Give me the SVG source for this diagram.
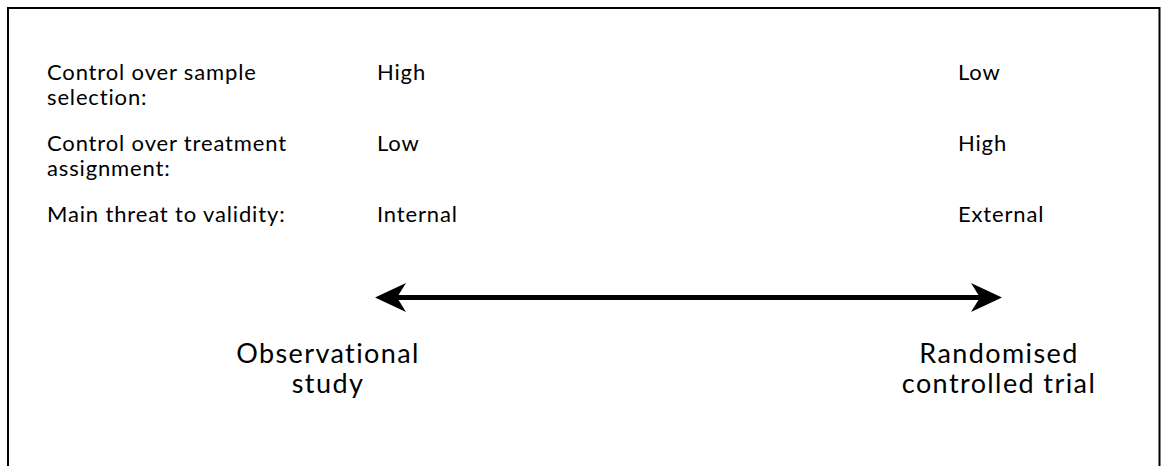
<svg xmlns="http://www.w3.org/2000/svg" width="1161" height="466" viewBox="0 0 1161 466">
<style>
.t{font-family:Lato,"Open Sans","Liberation Sans",sans-serif;font-size:22px;letter-spacing:0.85px;fill:#000}
.b{font-family:Lato,"Open Sans","Liberation Sans",sans-serif;font-size:27px;letter-spacing:1.4px;fill:#000;text-anchor:middle}
</style>
<rect x="0" y="0" width="1161" height="466" fill="#fff"/>
<path d="M8,480 V8 H1159.5 V480" fill="none" stroke="#000" stroke-width="2"/>
<g id="labels">
<text class="t" x="47" y="80">Control over sample</text>
<text class="t" x="47" y="105">selection:</text>
<text class="t" x="47" y="151">Control over treatment</text>
<text class="t" x="47" y="176">assignment:</text>
<text class="t" x="47" y="222">Main threat to validity:</text>
</g>
<g id="obs-values">
<text class="t" x="377" y="80">High</text>
<text class="t" x="377" y="151">Low</text>
<text class="t" x="377" y="222">Internal</text>
</g>
<g id="rct-values">
<text class="t" x="958" y="80">Low</text>
<text class="t" x="958" y="151">High</text>
<text class="t" x="958" y="222">External</text>
</g>
<g id="connectors">
<line x1="395" y1="297.5" x2="985" y2="297.5" stroke="#000" stroke-width="5"/>
<path d="M375,297.5 L406,283 L397,297.5 L406,312 Z" fill="#000"/>
<path d="M1002,297.5 L971,283 L980,297.5 L971,312 Z" fill="#000"/>
</g>
<g id="observational">
<text class="b" x="328" y="363">Observational</text>
<text class="b" x="328" y="393">study</text>
</g>
<g id="rct">
<text class="b" x="999" y="363">Randomised</text>
<text class="b" x="999" y="393">controlled trial</text>
</g>
</svg>
